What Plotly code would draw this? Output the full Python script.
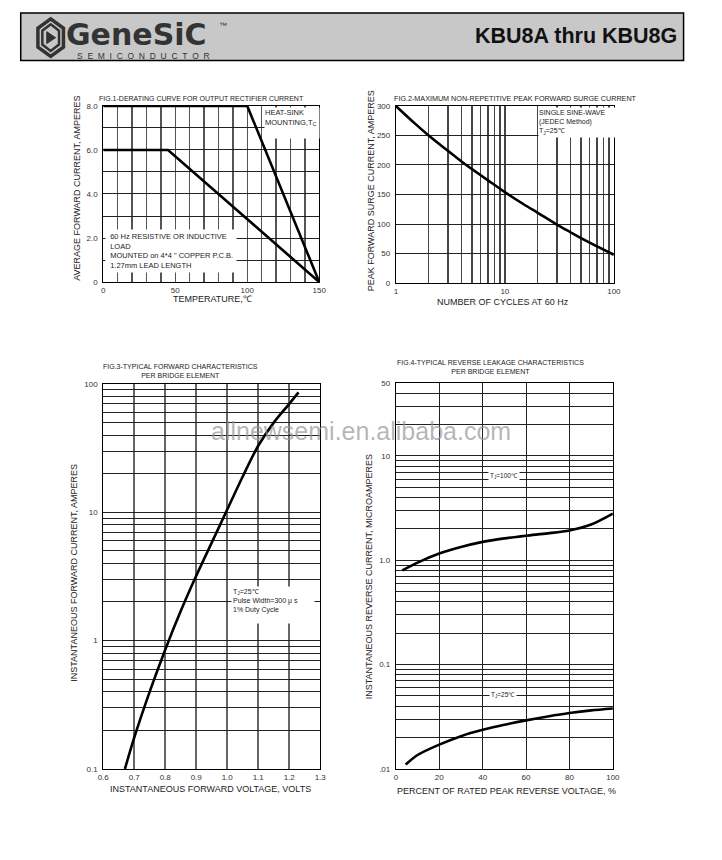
import math
import plotly.graph_objects as go

W, H = 722, 860
FONT = "Liberation Sans, Arial, sans-serif"

# ---------------- data ----------------
# Fig.1 derating curve
f1_temp_heatsink = [0, 100, 150]
f1_amp_heatsink = [8.0, 8.0, 0.0]
f1_temp_pcb = [0, 45, 150]
f1_amp_pcb = [6.0, 6.0, 0.0]
f1_xticks = list(range(0, 151, 10))
f1_xlabels = {0: "0", 50: "50", 100: "100", 150: "150"}
f1_yticks = [0, 1, 2, 3, 4, 5, 6, 7, 8]
f1_ylabels = {0: "0", 2: "2.0", 4: "4.0", 6: "6.0", 8: "8.0"}

# Fig.2 surge current
f2_cycles = [1, 1.5, 2, 3, 4, 5, 7, 10, 15, 20, 30, 40, 50, 70, 100]
f2_amps = [300, 270, 250, 224, 206, 193, 174, 154, 133, 119, 99, 86, 76, 62, 48]
f2_xticks = [1, 2, 3, 4, 5, 6, 7, 8, 9, 10, 20, 30, 40, 50, 60, 70, 80, 90, 100]
f2_xlabels = {1: "1", 10: "10", 100: "100"}
f2_yticks = [0, 50, 100, 150, 200, 250, 300]

# Fig.3 forward characteristics
f3_volts = [0.67, 0.70, 0.75, 0.80, 0.85, 0.90, 0.95, 1.00, 1.05, 1.10, 1.15, 1.20, 1.23]
f3_amps = [0.1, 0.175, 0.4, 0.85, 1.7, 3.2, 5.8, 10.5, 19, 33, 50, 70, 86]
f3_xticks = [0.6, 0.7, 0.8, 0.9, 1.0, 1.1, 1.2, 1.3]
f3_xlabels = ["0.6", "0.7", "0.8", "0.9", "1.0", "1.1", "1.2", "1.3"]
f3_decades = [0.1, 1, 10]
f3_ylabels = {0.1: "0.1", 1: "1", 10: "10", 100: "100"}

# Fig.4 reverse leakage
f4_pct_100 = [3, 10, 20, 30, 40, 50, 60, 70, 80, 90, 100]
f4_ua_100 = [0.8, 0.95, 1.16, 1.34, 1.5, 1.62, 1.72, 1.81, 1.93, 2.2, 2.8]
f4_pct_25 = [4.5, 10, 20, 30, 40, 50, 60, 70, 80, 90, 100]
f4_ua_25 = [0.011, 0.0136, 0.0171, 0.0206, 0.0237, 0.0265, 0.0292, 0.0318, 0.0343, 0.0364, 0.038]
f4_xticks = [0, 20, 40, 60, 80, 100]
f4_decades = [0.01, 0.1, 1]
f4_top = 50
f4_ylabels = {0.01: ".01", 0.1: "0.1", 1: "1.0", 10: "10", 50: "50"}


def px(x):
    return x / W


def py(y):
    return 1 - y / H


def log_ticks(decades, top):
    vals = []
    for d in decades:
        for k in range(1, 10):
            vals.append(round(d * k, 6))
    for k in range(1, 10):
        v = round(decades[-1] * 10 * k, 6)
        if v <= top:
            vals.append(v)
    return vals


f3_yticks = log_ticks(f3_decades, 100)
f4_yticks = log_ticks(f4_decades, f4_top)

fig = go.Figure()
curve = dict(color="black", width=2.6)
smooth = dict(color="black", width=2.6, shape="spline", smoothing=0.8)
fig.add_trace(go.Scatter(x=f1_temp_heatsink, y=f1_amp_heatsink, mode="lines", line=curve, xaxis="x", yaxis="y"))
fig.add_trace(go.Scatter(x=f1_temp_pcb, y=f1_amp_pcb, mode="lines", line=curve, xaxis="x", yaxis="y"))
fig.add_trace(go.Scatter(x=f2_cycles, y=f2_amps, mode="lines", line=smooth, xaxis="x2", yaxis="y2"))
fig.add_trace(go.Scatter(x=f3_volts, y=f3_amps, mode="lines", line=smooth, xaxis="x3", yaxis="y3"))
fig.add_trace(go.Scatter(x=f4_pct_100, y=f4_ua_100, mode="lines", line=smooth, xaxis="x4", yaxis="y4"))
fig.add_trace(go.Scatter(x=f4_pct_25, y=f4_ua_25, mode="lines", line=smooth, xaxis="x4", yaxis="y4"))

tickfont = dict(family=FONT, size=8, color="#333")


def ax(domain, anchor, **kw):
    d = dict(domain=domain, anchor=anchor, showline=True, linecolor="black", linewidth=1,
             mirror=True, showgrid=True, gridcolor="#222", gridwidth=1, zeroline=False,
             ticks="", tickfont=tickfont, tickmode="array", fixedrange=True)
    d.update(kw)
    return d


layout = dict(
    width=W, height=H, autosize=False,
    margin=dict(l=0, r=0, t=0, b=0, pad=0),
    paper_bgcolor="white", plot_bgcolor="white",
    showlegend=False,
    xaxis=ax([px(99), px(319)], "y", range=[0, 150], tickvals=f1_xticks,
             ticktext=[f1_xlabels.get(v, "") for v in f1_xticks], gridcolor="#555", gridwidth=1.4),
    yaxis=ax([py(281), py(103)], "x", range=[0, 8], tickvals=f1_yticks,
             ticktext=[f1_ylabels.get(v, "") for v in f1_yticks], ticklabelstandoff=3),
    xaxis2=ax([px(397), px(619)], "y2", type="log", range=[0, 2], tickvals=f2_xticks,
              ticktext=[f2_xlabels.get(v, "") for v in f2_xticks], gridcolor="#444", gridwidth=1.3),
    yaxis2=ax([py(282), py(103)], "x2", range=[0, 300], tickvals=f2_yticks,
              ticktext=[str(v) for v in f2_yticks], ticklabelstandoff=3),
    xaxis3=ax([px(99), px(320)], "y3", range=[0.6, 1.3], tickvals=f3_xticks, ticktext=f3_xlabels,
              gridcolor="#666", gridwidth=1.6),
    yaxis3=ax([py(773), py(384)], "x3", type="log", range=[-1, 2], tickvals=f3_yticks,
              ticktext=[f3_ylabels.get(v, "") for v in f3_yticks], ticklabelstandoff=3),
    xaxis4=ax([px(397), px(618)], "y4", range=[0, 100], tickvals=f4_xticks,
              ticktext=[str(v) for v in f4_xticks]),
    yaxis4=ax([py(773), py(383)], "x4", type="log", range=[-2, math.log10(f4_top)], tickvals=f4_yticks,
              ticktext=[f4_ylabels.get(v, "") for v in f4_yticks], ticklabelstandoff=3),
)

ann = []


def note(text, x, y, size=7, xanchor="left", yanchor="middle", align="left", color="#222", **kw):
    a = dict(text=text, x=px(x), y=py(y), xref="paper", yref="paper", showarrow=False,
             xanchor=xanchor, yanchor=yanchor, align=align,
             font=dict(family=FONT, size=size, color=color))
    a.update(kw)
    ann.append(a)


NB = "\u00a0\u00a0"

# chart titles
note("FIG.1-DERATING CURVE FOR OUTPUT RECTIFIER CURRENT", 93, 96, size=7)
note("FIG.2-MAXIMUM NON-REPETITIVE PEAK FORWARD SURGE CURRENT", 393, 95, size=7.2)
note("FIG.3-TYPICAL FORWARD CHARACTERISTICS<br>PER BRIDGE ELEMENT", 178, 370.5, size=7,
     xanchor="center", align="center")
note("FIG.4-TYPICAL REVERSE LEAKAGE CHARACTERISTICS<br>PER BRIDGE ELEMENT", 493, 366.5, size=7,
     xanchor="center", align="center")

# axis titles
note("AVERAGE FORWARD CURRENT, AMPERES", 72, 186, size=9, xanchor="center", textangle=-90)
note("TEMPERATURE,℃", 210, 298, size=9, xanchor="center")
note("PEAK FORWARD SURGE CURRENT, AMPERES", 372, 189, size=9, xanchor="center", textangle=-90)
note("NUMBER OF CYCLES AT 60 Hz", 506, 301, size=9, xanchor="center")
note("INSTANTANEOUS FORWARD CURRENT, AMPERES", 69, 575, size=9, xanchor="center", textangle=-90)
note("INSTANTANEOUS FORWARD VOLTAGE, VOLTS", 208, 793, size=9, xanchor="center")
note("INSTANTANEOUS REVERSE CURRENT, MICROAMPERES", 370, 579, size=9, xanchor="center", textangle=-90)
note("PERCENT OF RATED PEAK REVERSE VOLTAGE, %", 510, 795, size=9, xanchor="center")

# in-plot white boxes
note("HEAT-SINK<br>MOUNTING,T<sub>C</sub>", 263, 104, size=7.5, yanchor="top",
     bgcolor="white", width=54, height=30, valign="top", borderpad=0)
note(NB + "60 Hz RESISTIVE OR INDUCTIVE<br>" + NB + "LOAD<br>" + NB +
     "MOUNTED on 4*4 \" COPPER P.C.B.<br>" + NB + "1.27mm LEAD LENGTH",
     101, 227, size=7.5, yanchor="top", bgcolor="white", width=130, height=42, valign="middle", borderpad=0)
note("SINGLE SINE-WAVE<br>(JEDEC Method)<br>T<sub>J</sub>=25℃", 542, 104, size=7, yanchor="top",
     bgcolor="white", width=76, height=29, valign="middle", borderpad=0)
note("T<sub>J</sub>=25℃<br>Pulse Width=300 μ s<br>1% Duty Cycle", 229, 588, size=7, yanchor="top",
     bgcolor="white", width=80, height=34, valign="top", borderpad=1)
note("T<sub>J</sub>=100℃", 507, 477, size=6.5, xanchor="center", bgcolor="white", borderpad=1)
note("T<sub>J</sub>=25℃", 506, 698, size=6.5, xanchor="center", bgcolor="white", borderpad=1)

# header texts
note("GeneSiC", 59, 31, color="#333",
     font=dict(family="DejaVu Sans, sans-serif", size=30, color="#333", weight="bold"))
note("™", 215, 22, size=8, color="#333")
note(NB.join("SEMICONDUCTOR"), 70, 53, size=8.5, color="#333")
note("<b>KBU8A thru KBU8G</b>", 685, 32, size=21.5, xanchor="right", color="#111")

# watermark
note("allnewsemi.en.alibaba.com", 361, 432, size=25, xanchor="center", color="rgba(150,150,150,0.7)")

layout["annotations"] = ann

# header shapes
shapes = [
    dict(type="rect", xref="paper", yref="paper", x0=px(15), x1=px(690), y0=py(57), y1=py(9),
         fillcolor="#c8c8c8", line=dict(color="black", width=1.5), layer="below"),
]


def path(pts):
    return "M " + " L ".join(f"{px(x)} {py(y)}" for x, y in pts) + " Z"


cx, cy = 45.5, 34
outer = [(cx, 15), (cx + 13, 24.5), (cx + 13, 43.5), (cx, 53), (cx - 13, 43.5), (cx - 13, 24.5)]
inner = [(cx, 20.5), (cx + 8.5, 27), (cx + 8.5, 41), (cx, 47.5), (cx - 8.5, 41), (cx - 8.5, 27)]
tri = [(cx - 4, 28), (cx + 5, 34), (cx - 4, 40)]
shapes.append(dict(type="path", xref="paper", yref="paper", path=path(outer),
                   fillcolor="rgba(0,0,0,0)", line=dict(color="#333", width=3.5)))
shapes.append(dict(type="path", xref="paper", yref="paper", path=path(inner),
                   fillcolor="rgba(0,0,0,0)", line=dict(color="#333", width=2.5)))
shapes.append(dict(type="path", xref="paper", yref="paper", path=path(tri),
                   fillcolor="#333", line=dict(color="#333", width=1)))
layout["shapes"] = shapes

fig.update_layout(**layout)

fig.write_html("out.html", config={"staticPlot": True},
               post_script="document.body.style.margin='0';")
